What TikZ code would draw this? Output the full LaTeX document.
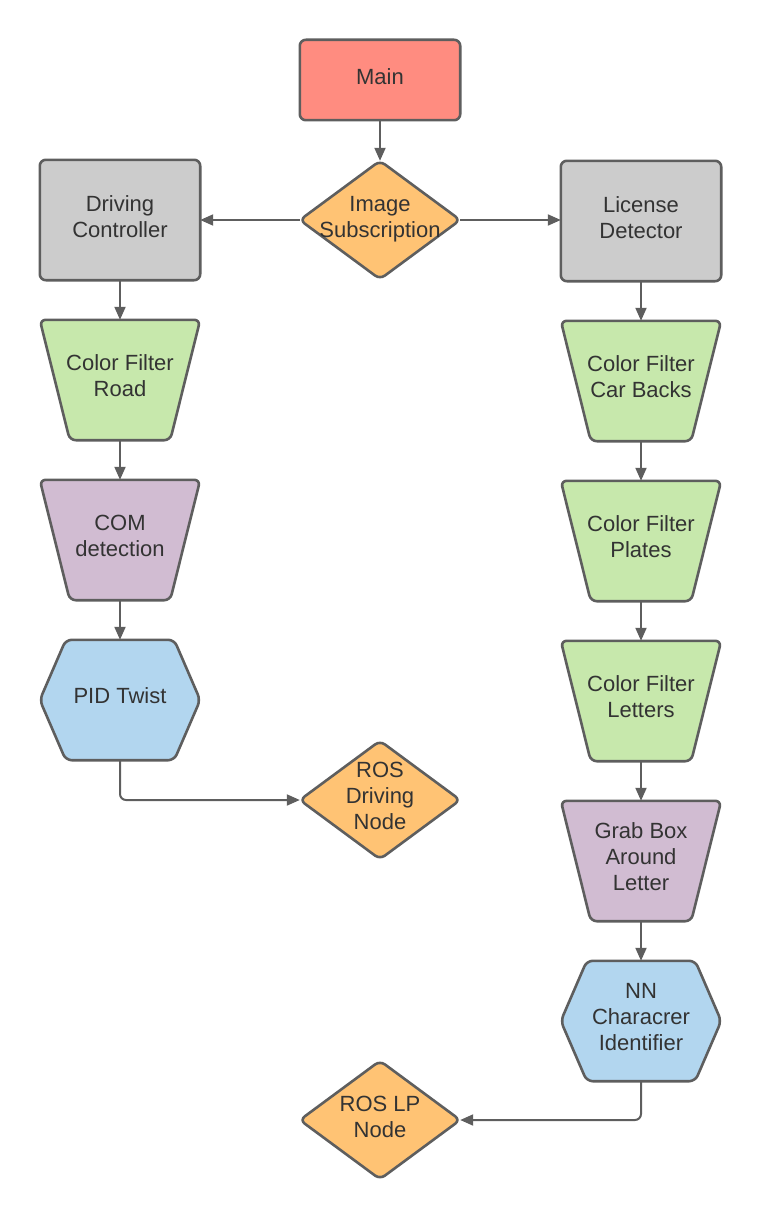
\documentclass[tikz,border=0pt]{standalone}
\usepackage{fontspec}
\setmainfont{Liberation Sans}
\usetikzlibrary{arrows.meta,backgrounds}
\definecolor{cmain}{HTML}{FF8C80}
\definecolor{cgray}{HTML}{CCCCCC}
\definecolor{cgreen}{HTML}{C7E8AC}
\definecolor{cpurple}{HTML}{D1BCD2}
\definecolor{cblue}{HTML}{B2D6EF}
\definecolor{corange}{HTML}{FFC374}
\definecolor{edge}{HTML}{5E5E5E}
\definecolor{txt}{HTML}{333333}
\tikzset{
  lbl/.style={align=center, text=txt, font=\fontsize{22}{26}\selectfont, inner sep=0pt},
  mainbox/.style={minimum width=160pt, minimum height=80pt, inner sep=0pt},
  stdbox/.style={minimum width=160pt, minimum height=120pt, inner sep=0pt},
  diabox/.style={minimum width=160pt, minimum height=118pt, inner sep=0pt},
  arr/.style={draw=edge, line width=2pt, -{Triangle[length=13pt,width=11pt]}},
  shp/.style={draw=edge, line width=2.6pt, rounded corners=6pt, line join=round},
}
\begin{document}
\begin{tikzpicture}[x=1pt,y=-1pt]
\useasboundingbox (0,0) rectangle (761,1220);
% shape nodes
\node[mainbox] (main) at (380,80) {};
\node[diabox] (img) at (380,220) {};
\node[stdbox] (drv) at (120,220) {};
\node[stdbox] (lic) at (641,221) {};
\node[stdbox] (cfr) at (120,380) {};
\node[stdbox] (com) at (120,540) {};
\node[stdbox] (pid) at (120,700) {};
\node[diabox] (rosd) at (380,800) {};
\node[stdbox] (cfc) at (641,381) {};
\node[stdbox] (cfp) at (641,541) {};
\node[stdbox] (cfl) at (641,701) {};
\node[stdbox] (grab) at (641,861) {};
\node[stdbox] (nn) at (641,1021) {};
\node[diabox] (roslp) at (380,1120) {};
% shapes
\begin{scope}[on background layer]
  \path[shp, fill=cmain] (main.north west) rectangle (main.south east);
  \foreach \n in {drv,lic}
    \path[shp, fill=cgray] (\n.north west) rectangle (\n.south east);
  \foreach \n in {img,rosd,roslp}
    \path[shp, fill=corange] (\n.west) -- (\n.north) -- (\n.east) -- (\n.south) -- cycle;
  \foreach \n/\c in {cfr/cgreen,cfc/cgreen,cfp/cgreen,cfl/cgreen,com/cpurple,grab/cpurple}
    \path[shp, fill=\c] (\n.north west) -- (\n.north east) -- ([xshift=-30pt]\n.south east)
      -- ([xshift=30pt]\n.south west) -- cycle;
  \foreach \n in {pid,nn}
    \path[shp, fill=cblue] ([xshift=26pt]\n.north west) -- ([xshift=-26pt]\n.north east)
      -- (\n.east) -- ([xshift=-26pt]\n.south east) -- ([xshift=26pt]\n.south west)
      -- (\n.west) -- cycle;
\end{scope}
% texts
\node[lbl] (main-t) at ([yshift=3pt]main.center) {Main};
\node[lbl] (img-t) at ([yshift=1pt]img.center) {Image\\Subscription};
\node[lbl] (drv-t) at ([yshift=3pt]drv.center) {Driving\\Controller};
\node[lbl] (lic-t) at ([yshift=3pt]lic.center) {License\\Detector};
\node[lbl] (cfr-t) at ([yshift=4pt]cfr.center) {Color Filter\\Road};
\node[lbl] (com-t) at ([yshift=4pt]com.center) {COM\\detection};
\node[lbl] (pid-t) at ([yshift=4pt]pid.center) {PID Twist};
\node[lbl] (rosd-t) at ([yshift=4pt]rosd.center) {ROS\\Driving\\Node};
\node[lbl] (cfc-t) at ([yshift=4pt]cfc.center) {Color Filter\\Car Backs};
\node[lbl] (cfp-t) at ([yshift=4pt]cfp.center) {Color Filter\\Plates};
\node[lbl] (cfl-t) at ([yshift=4pt]cfl.center) {Color Filter\\Letters};
\node[lbl] (grab-t) at ([yshift=4pt]grab.center) {Grab Box\\Around\\Letter};
\node[lbl] (nn-t) at ([yshift=4pt]nn.center) {NN\\Characrer\\Identifier};
\node[lbl] (roslp-t) at ([yshift=3pt]roslp.center) {ROS LP\\Node};
% connectors
\draw[arr] (main) -- (img);
\draw[arr] (img) -- (drv);
\draw[arr] (img.east) -- (img.east -| lic.west);
\draw[arr] (drv) -- (cfr);
\draw[arr] (cfr) -- (com);
\draw[arr] (com) -- (pid);
\draw[arr, rounded corners=6pt] (pid.south) |- (rosd.west);
\draw[arr] (lic) -- (cfc);
\draw[arr] (cfc) -- (cfp);
\draw[arr] (cfp) -- (cfl);
\draw[arr] (cfl) -- (grab);
\draw[arr] (grab) -- (nn);
\draw[arr, rounded corners=6pt] (nn.south) |- (roslp.east);
\end{tikzpicture}
\end{document}
